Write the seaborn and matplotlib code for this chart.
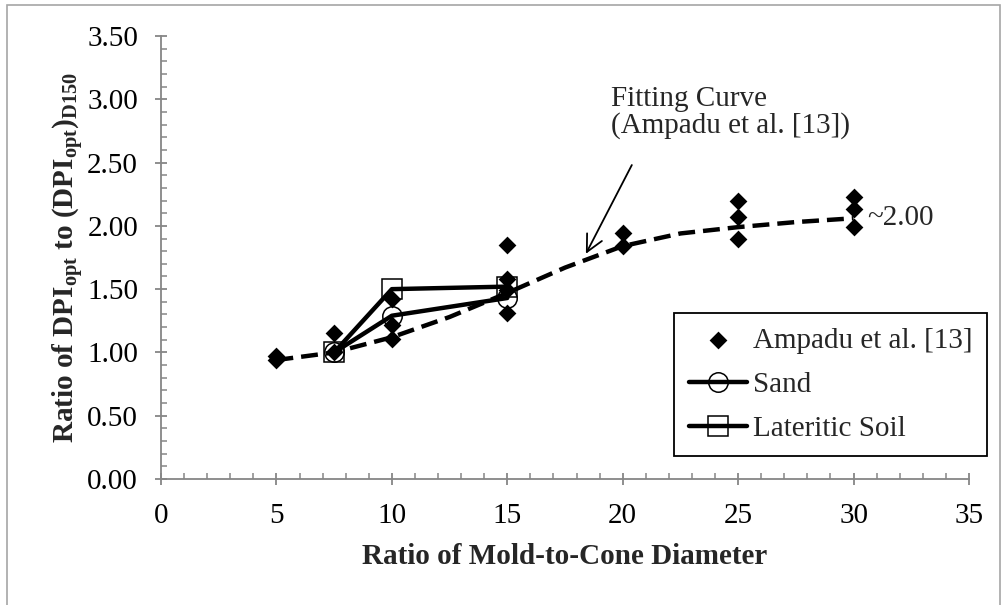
import numpy as np
import matplotlib
matplotlib.use('Agg')  # headless
import matplotlib.pyplot as plt
import seaborn as sns
from matplotlib.ticker import MultipleLocator, FormatStrFormatter
from matplotlib.patches import Rectangle

# data
ampadu_x = [5, 5, 7.5, 7.5, 10, 10, 10, 15, 15, 15, 15, 20, 20, 25, 25, 25, 30, 30, 30]
ampadu_y = [0.97, 0.94, 1.15, 1.00, 1.42, 1.22, 1.11, 1.85, 1.58, 1.49, 1.31,
            1.94, 1.84, 2.20, 2.07, 1.90, 2.23, 2.13, 1.99]

fit_x = [5, 7.5, 10, 12.5, 15, 17.5, 20, 22.5, 25, 27.5, 30]
fit_y = [0.94, 1.00, 1.12, 1.28, 1.47, 1.67, 1.84, 1.94, 1.99, 2.03, 2.06]

soil_x = [7.5, 10, 15]
sand_y = [1.00, 1.29, 1.43]
lat_y = [1.00, 1.50, 1.52]

sns.set_style('ticks')
plt.rcParams['font.family'] = ['Liberation Serif', 'DejaVu Serif']
plt.rcParams['mathtext.fontset'] = 'custom'
plt.rcParams['mathtext.bf'] = 'Liberation Serif:bold'
plt.rcParams['mathtext.rm'] = 'Liberation Serif'

FS = 21
axis_col = '#868686'

fig = plt.figure(figsize=(10.07, 6.05), dpi=100)
ax = fig.add_axes([161 / 1007, 1 - 479 / 605, (969 - 161) / 1007, (479 - 36) / 605])

# outer chart border
fig.patches.append(Rectangle((7 / 1007, -0.02), (1000 - 7) / 1007, 1.02 - 5 / 605,
                             transform=fig.transFigure, fill=False,
                             edgecolor='#a6a6a6', lw=1.2))

sns.scatterplot(x=ampadu_x, y=ampadu_y, ax=ax, marker='D', s=82, color='black',
                edgecolor='black', linewidth=0, label='Ampadu et al. [13]', zorder=3)
sns.lineplot(x=fit_x, y=fit_y, ax=ax, color='black', lw=3.2, sort=False,
             linestyle=(0, (3.8, 1.8)), zorder=2)
sns.lineplot(x=soil_x, y=sand_y, ax=ax, color='black', lw=3.2, sort=False, label='Sand',
             marker='o', markersize=14, markerfacecolor='none',
             markeredgecolor='black', markeredgewidth=1.1, zorder=4)
sns.lineplot(x=soil_x, y=lat_y, ax=ax, color='black', lw=3.2, sort=False, label='Lateritic Soil',
             marker='s', markersize=14, markerfacecolor='none',
             markeredgecolor='black', markeredgewidth=1.1, zorder=4)

ax.set_xlim(0, 35)
ax.set_ylim(0, 3.5)
ax.xaxis.set_major_locator(MultipleLocator(5))
ax.xaxis.set_minor_locator(MultipleLocator(1))
ax.yaxis.set_major_locator(MultipleLocator(0.5))
ax.yaxis.set_minor_locator(MultipleLocator(0.1))
ax.yaxis.set_major_formatter(FormatStrFormatter('%.2f'))

for side in ['top', 'right']:
    ax.spines[side].set_visible(False)
for side in ['left', 'bottom']:
    ax.spines[side].set_color(axis_col)
    ax.spines[side].set_linewidth(1.3)
ax.tick_params(which='major', direction='inout', length=9, width=1.3, color=axis_col,
               labelsize=FS, labelcolor='black')
ax.tick_params(axis='x', which='major', pad=13)
ax.tick_params(axis='y', which='major', pad=12)
ax.tick_params(which='minor', direction='in', length=4, width=1.1, color=axis_col)

ax.set_xlabel('Ratio of Mold-to-Cone Diameter', fontsize=FS, fontweight='bold', labelpad=10)
ax.set_ylabel(r'Ratio of DPI$_{\mathbf{opt}}$ to (DPI$_{\mathbf{opt}}$)$_{\mathbf{D150}}$',
              fontsize=FS, fontweight='bold', labelpad=1)

# annotations
ax.annotate('', xy=(18.35, 1.76), xytext=(20.45, 2.50),
            arrowprops=dict(arrowstyle='->', lw=1.3, color='black', mutation_scale=30))
ax.text(19.5, 3.0, 'Fitting Curve', fontsize=FS, ha='left', va='center')
ax.text(19.5, 2.79, '(Ampadu et al. [13])', fontsize=FS, ha='left', va='center')
ax.text(30.6, 2.06, '~2.00', fontsize=FS, ha='left', va='center')

leg = ax.legend(loc='upper left', bbox_to_anchor=(674 / 1007, 1 - 313 / 605),
                bbox_transform=fig.transFigure, fontsize=FS, frameon=True,
                fancybox=False, framealpha=1, edgecolor='black',
                handlelength=2.0, handletextpad=0.2, labelspacing=0.6,
                borderpad=0.5, borderaxespad=0)
leg.get_frame().set_linewidth(1.3)

plt.savefig('out.png', dpi=100)
plt.close()
